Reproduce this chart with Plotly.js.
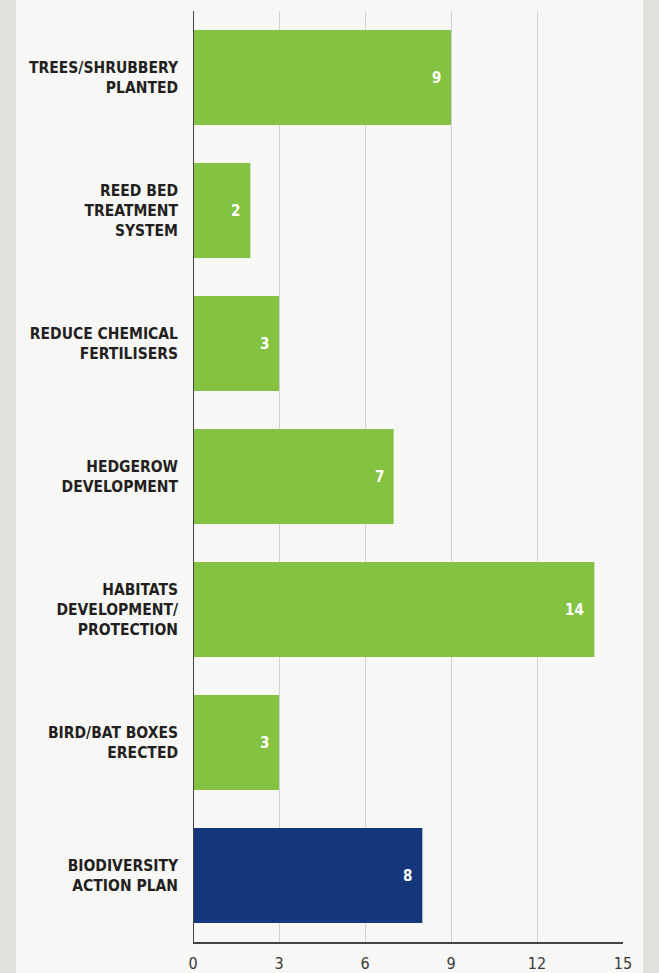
<!DOCTYPE html>
<html>
<head>
<meta charset="utf-8">
<script src="https://cdn.plot.ly/plotly-3.0.1.min.js"></script>
<style>html,body{margin:0;padding:0;background:#e2e1dd;}#chart{width:659px;height:973px;}</style>
</head>
<body>
<div id="chart"></div>
<script>
var categories = [
  "TREES/SHRUBBERY<br>PLANTED",
  "REED BED<br>TREATMENT<br>SYSTEM",
  "REDUCE CHEMICAL<br>FERTILISERS",
  "HEDGEROW<br>DEVELOPMENT",
  "HABITATS<br>DEVELOPMENT/<br>PROTECTION",
  "BIRD/BAT BOXES<br>ERECTED",
  "BIODIVERSITY<br>ACTION PLAN"
];
var values = [9, 2, 3, 7, 14, 3, 8];
var barColors = ["#84c341","#84c341","#84c341","#84c341","#84c341","#84c341","#15387c"];
var xTicks = [0, 3, 6, 9, 12, 15];

var fontFam = "'Liberation Sans Narrow','DejaVu Sans Condensed','Arial Narrow',sans-serif";

var trace = {
  type: 'bar',
  orientation: 'h',
  y: categories,
  x: values,
  marker: {color: barColors},
  hoverinfo: 'none'
};

var annotations = values.map(function (v, i) {
  return {
    x: v, y: categories[i], xref: 'x', yref: 'y',
    text: String(v), showarrow: false,
    xanchor: 'right', yanchor: 'middle', xshift: -8,
    font: {family: fontFam, size: 15, color: '#ffffff', weight: 'bold'}
  };
});

var layout = {
  width: 659, height: 973,
  margin: {l: 193, r: 36, t: 11, b: 31, pad: 0},
  paper_bgcolor: '#e2e1dd',
  plot_bgcolor: 'rgba(0,0,0,0)',
  bargap: 0.286,
  showlegend: false,
  annotations: annotations,
  xaxis: {
    range: [0, 15],
    tickvals: xTicks,
    ticktext: xTicks.map(String),
    showgrid: true, gridcolor: '#d2d2d2', gridwidth: 1,
    zeroline: false,
    showline: true, linecolor: '#444444', linewidth: 2,
    ticks: '',
    ticklabelstandoff: 6,
    tickfont: {family: fontFam, size: 16, color: '#3a3a3a'},
    fixedrange: true
  },
  yaxis: {
    categoryorder: 'array', categoryarray: categories,
    autorange: 'reversed',
    showgrid: false, zeroline: false,
    showline: false,
    ticks: '',
    ticklabelstandoff: 14,
    tickfont: {family: fontFam, size: 15.5, color: '#231f20', weight: 'bold'},
    fixedrange: true
  },
  shapes: [
    {type: 'rect', xref: 'paper', yref: 'paper', x0: -0.4116, x1: 1.0465, y0: -0.04, y1: 1.02,
     fillcolor: '#f7f7f5', line: {width: 0}, layer: 'below'},
    {type: 'line', xref: 'x', yref: 'paper', x0: 0, x1: 0, y0: 0, y1: 1,
     line: {color: '#444444', width: 2}, layer: 'above'}
  ]
};

Plotly.newPlot('chart', [trace], layout, {displayModeBar: false, staticPlot: true});
</script>
</body>
</html>
